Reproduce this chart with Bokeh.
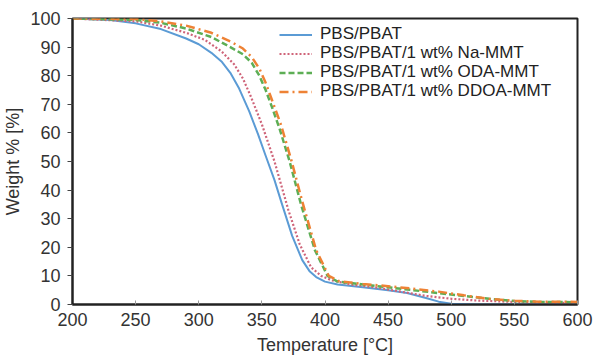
from bokeh.plotting import figure
from bokeh.models import Range1d, Legend, LegendItem, FixedTicker
from bokeh.embed import file_html
from bokeh.resources import INLINE

# --- data ---
t_pbs = [200, 230, 250, 270, 290, 300, 310, 318, 325, 332, 340, 347, 353, 360, 366, 374, 382, 388, 393, 400, 410, 430, 450, 465, 480, 490, 500, 520, 550, 600]
w_pbs = [100, 99.5, 98.3, 96.3, 93, 91, 88, 85, 81, 75.5, 67.5, 59.5, 52, 43.5, 35, 24, 15.5, 11.5, 9.6, 8, 7, 6, 5, 4, 2.3, 1, 0.3, 0, 0, 0]

t_na = [200, 250, 270, 290, 305, 318, 328, 335, 341, 350, 360, 371, 380, 389, 397, 405, 420, 440, 460, 480, 500, 520, 550, 580, 600]
w_na = [100, 99, 97.5, 95, 92.5, 88.5, 84, 79, 73, 63, 50, 33, 21, 13, 10, 8.5, 7, 6, 4.5, 3, 2, 1.4, 0.9, 0.6, 0.5]

t_oda = [200, 250, 270, 290, 310, 325, 335, 342, 348, 353, 358, 364, 372, 381, 392, 402, 410, 430, 450, 470, 490, 510, 530, 550, 570, 600]
w_oda = [100, 99.5, 98.5, 96.5, 93.5, 90, 87.5, 84.5, 80, 75, 69, 61.5, 50, 35, 19, 10, 8, 7, 6, 5, 4, 3, 2, 1.2, 0.9, 0.8]

t_ddoa = [200, 250, 270, 290, 310, 325, 335, 342, 348, 353, 358, 365, 373, 382, 393, 403, 411, 430, 450, 470, 490, 510, 530, 550, 570, 600]
w_ddoa = [100, 99.8, 99, 97.5, 95, 92, 89.5, 86.5, 82.5, 77.5, 71.5, 63, 51, 36, 19, 10, 8.2, 7.2, 6.4, 5.5, 4.5, 3.2, 2, 1.3, 1, 0.9]

labels = ["PBS/PBAT", "PBS/PBAT/1 wt% Na-MMT", "PBS/PBAT/1 wt% ODA-MMT", "PBS/PBAT/1 wt% DDOA-MMT"]
x_ticks = [200, 250, 300, 350, 400, 450, 500, 550, 600]
y_ticks = [0, 10, 20, 30, 40, 50, 60, 70, 80, 90, 100]

FONT = "Liberation Sans"

p = figure(width=596, height=360, output_backend="svg", toolbar_location=None,
           x_range=Range1d(200, 600), y_range=Range1d(0, 100),
           min_border_left=70, min_border_right=19, min_border_top=18, min_border_bottom=56)
p.grid.visible = False
p.background_fill_color = "white"
p.border_fill_color = "white"
p.outline_line_color = "#222222"
p.outline_line_width = 2

r1 = p.line(t_pbs, w_pbs, line_color="#5B9BD5", line_width=2)
r2 = p.line(t_na, w_na, line_color="#CF6479", line_width=2.2, line_dash="2 2")
r3 = p.line(t_oda, w_oda, line_color="#5DAE55", line_width=2.5, line_dash="6 3")
r4 = p.line(t_ddoa, w_ddoa, line_color="#EE8235", line_width=2.5, line_dash="9 4 2 4")

for ax in (p.xaxis[0], p.yaxis[0]):
    ax.axis_line_color = "#222222"
    ax.axis_line_width = 2
    ax.major_label_text_font = FONT
    ax.major_label_text_font_size = "18px"
    ax.major_label_text_color = "#333333"
    ax.axis_label_text_font = FONT
    ax.axis_label_text_font_size = "18px"
    ax.axis_label_text_font_style = "normal"
    ax.axis_label_text_color = "#333333"
    ax.minor_tick_line_color = None

p.xaxis.ticker = FixedTicker(ticks=x_ticks)
p.yaxis.ticker = FixedTicker(ticks=y_ticks)
p.xaxis.axis_label = "Temperature [°C]"
p.yaxis.axis_label = "Weight % [%]"
p.xaxis.major_tick_in = 4
p.xaxis.major_tick_out = 0
p.xaxis.major_tick_line_color = "#999999"
p.xaxis.major_label_standoff = 8
p.xaxis.axis_label_standoff = 6
p.yaxis.major_tick_in = 0
p.yaxis.major_tick_out = 5
p.yaxis.major_tick_line_color = "#444444"
p.yaxis.major_label_standoff = 7
p.yaxis.axis_label_standoff = 4

# one legend per row so the row pitch can be set exactly
renderers = [r1, r2, r3, r4]
for i, (lab, r) in enumerate(zip(labels, renderers)):
    lg = Legend(items=[LegendItem(label=lab, renderers=[r])],
                location=(207, 260 - 19 * i), padding=0, margin=0, spacing=0,
                glyph_width=33, glyph_height=17, label_height=17, label_standoff=8,
                label_text_font=FONT, label_text_font_size="17px", label_text_color="#222222",
                border_line_color=None, background_fill_alpha=0)
    p.add_layout(lg)

open("out.html", "w").write(file_html(p, INLINE))
